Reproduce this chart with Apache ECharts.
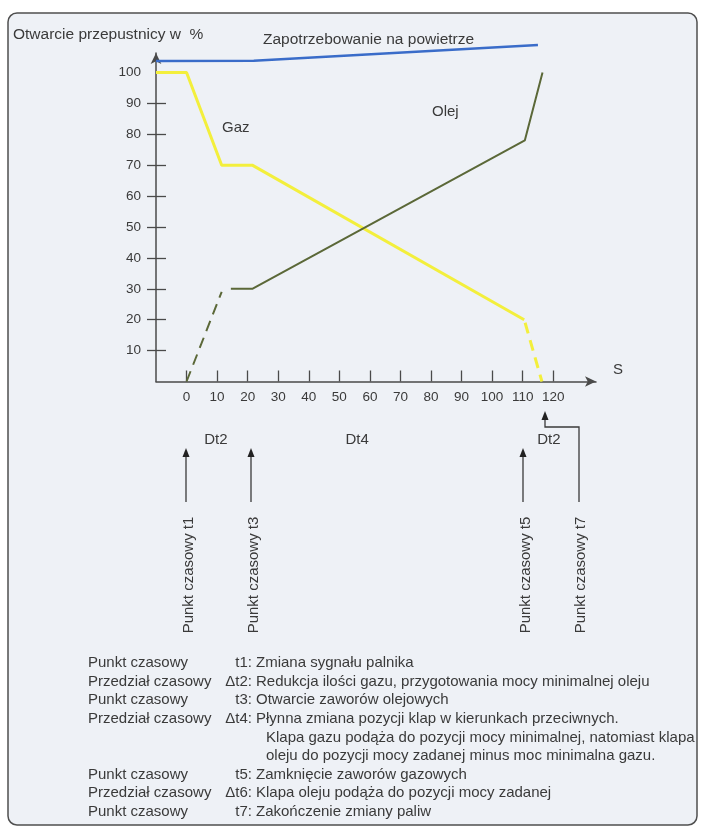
<!DOCTYPE html>
<html>
<head>
<meta charset="utf-8">
<script src="https://cdn.jsdelivr.net/npm/echarts@6/dist/echarts.min.js"></script>
<style>
html,body{margin:0;padding:0;background:#ffffff;}
#chart{width:702px;height:828px;}
</style>
</head>
<body>
<div id="chart"></div>
<script>
// ---- data (time in s, opening in %) ----
const airDemand = [[-10, 103.7], [22, 103.8], [115, 108.9]];
const gasSolid  = [[-10, 100], [0, 100], [11.5, 70], [21.5, 70], [110.5, 20]];
const gasDashed = [[110.8, 19], [116.3, 0]];
const oilDashed = [[0, 0], [11.5, 29]];
const oilSolid  = [[14.5, 30], [21.5, 30], [110.7, 78], [116.5, 100]];

const xTickValues = [0, 10, 20, 30, 40, 50, 60, 70, 80, 90, 100, 110, 120];
const yTickValues = [10, 20, 30, 40, 50, 60, 70, 80, 90];
const yLabelValues = [10, 20, 30, 40, 50, 60, 70, 80, 90, 100];

const eventTimes  = [0, 21.5, 110.5];
const eventLabels = ['Punkt czasowy t1', 'Punkt czasowy t3', 'Punkt czasowy t5'];
const endEventTime = 117.3;
const endEventLabel = 'Punkt czasowy t7';
const intervalCenters = [9.6, 55.8, 118.6];
const intervalLabels = ['Dt2', 'Dt4', 'Dt2'];

const legendRows = [
  ['Punkt czasowy', 't1:', 'Zmiana sygnału palnika', 0],
  ['Przedział czasowy', 'Δt2:', 'Redukcja ilości gazu, przygotowania mocy minimalnej oleju', 0],
  ['Punkt czasowy', 't3:', 'Otwarcie zaworów olejowych', 0],
  ['Przedział czasowy', 'Δt4:', 'Płynna zmiana pozycji klap w kierunkach przeciwnych.', 0],
  ['', '', 'Klapa gazu podąża do pozycji mocy minimalnej, natomiast klapa', 1],
  ['', '', 'oleju do pozycji mocy zadanej minus moc minimalna gazu.', 1],
  ['Punkt czasowy', 't5:', 'Zamknięcie zaworów gazowych', 0],
  ['Przedział czasowy', 'Δt6:', 'Klapa oleju podąża do pozycji mocy zadanej', 0],
  ['Punkt czasowy', 't7:', 'Zakończenie zmiany paliw', 0]
];

const FONT = 'Liberation Sans, Arial, sans-serif';
const TXT = '#3a3a3a';
const AX = '#4a4a4a';

const chart = echarts.init(document.getElementById('chart'), null, {renderer: 'canvas'});

const option = {
  animation: false,
  backgroundColor: 'transparent',
  grid: {left: 156, right: 106, top: 53, bottom: 446.5},
  xAxis: {
    type: 'value', min: -10, max: 134,
    axisLine: {show: true, onZero: false, symbol: ['none', 'arrow'], symbolSize: [8, 11], lineStyle: {color: AX, width: 1.5}},
    axisTick: {show: true, inside: true, length: 11, customValues: xTickValues, lineStyle: {color: AX, width: 1.3}},
    axisLabel: {show: true, customValues: xTickValues, margin: 9, fontSize: 13.5, color: TXT, fontFamily: FONT},
    splitLine: {show: false}
  },
  yAxis: [{
    type: 'value', min: 0, max: 106.3, position: 'left',
    axisLine: {show: true, onZero: false, symbol: ['none', 'arrow'], symbolSize: [8, 11], lineStyle: {color: AX, width: 1.5}},
    axisTick: {show: true, inside: true, length: 10, customValues: yTickValues, lineStyle: {color: AX, width: 1.3}},
    axisLabel: {show: true, customValues: yLabelValues, margin: 15, fontSize: 13.5, color: TXT, fontFamily: FONT},
    splitLine: {show: false}
  }, {
    type: 'value', min: 0, max: 106.3, position: 'left', offset: 0,
    axisLine: {show: false, onZero: false},
    axisTick: {show: true, inside: false, length: 9, customValues: yTickValues, lineStyle: {color: AX, width: 1.3}},
    axisLabel: {show: false},
    splitLine: {show: false}
  }],
  series: [
    {type: 'line', name: 'air', data: airDemand, showSymbol: false, clip: false,
     lineStyle: {color: '#3a6cc9', width: 2.5}, z: 3},
    {type: 'line', name: 'gas', data: gasSolid, showSymbol: false, clip: false,
     lineStyle: {color: '#f3ef3c', width: 3}, z: 4},
    {type: 'line', name: 'gasDash', data: gasDashed, showSymbol: false, clip: false,
     lineStyle: {color: '#f3ef3c', width: 3, type: [11, 7]}, z: 4},
    {type: 'line', name: 'oilDash', data: oilDashed, showSymbol: false, clip: false,
     lineStyle: {color: '#5b6838', width: 2, type: [11, 7]}, z: 5},
    {type: 'line', name: 'oil', data: oilSolid, showSymbol: false, clip: false,
     lineStyle: {color: '#5b6838', width: 2}, z: 5}
  ]
};
chart.setOption(option);

function px(x, y) { return chart.convertToPixel({xAxisIndex: 0, yAxisIndex: 0}, [x, y]); }

function txt(x, y, s, extra) {
  return Object.assign({type: 'text', x: x, y: y, z: 100,
    style: Object.assign({text: s, fill: TXT, font: '15px ' + FONT, textVerticalAlign: 'middle'}, (extra || {}))});
}
function arrowUp(x, yTip, yEnd) {
  return [
    {type: 'line', z: 100, shape: {x1: x, y1: yTip + 6, x2: x, y2: yEnd}, style: {stroke: '#3a3a3a', lineWidth: 1.3}},
    {type: 'polygon', z: 100, shape: {points: [[x, yTip], [x - 3.5, yTip + 9], [x + 3.5, yTip + 9]]}, style: {fill: '#222'}}
  ];
}

const g = [];
g.push({type: 'rect', z: -10, shape: {x: 8, y: 13, width: 689, height: 812, r: 9},
  style: {fill: '#eef1f6', stroke: '#4f4f4f', lineWidth: 1.5}});
g.push(txt(13, 35, 'Otwarcie przepustnicy w  %', {font: '15.5px ' + FONT}));
g.push(txt(263, 40, 'Zapotrzebowanie na powietrze', {font: '15.5px ' + FONT}));
g.push(txt(222, 128, 'Gaz'));
g.push(txt(432, 112, 'Olej'));
g.push(txt(613, 370, 'S'));

intervalCenters.forEach((t, i) => {
  const p = px(t, 0);
  g.push(txt(p[0], 440, intervalLabels[i], {textAlign: 'center'}));
});
eventTimes.forEach((t, i) => {
  const p = px(t, 0);
  const x = Math.round(p[0]) - 1;
  arrowUp(x, 448, 502).forEach(e => g.push(e));
  g.push({type: 'text', x: x + 3, y: 575, rotation: Math.PI / 2, z: 100,
    style: {text: eventLabels[i], fill: TXT, font: '15px ' + FONT, textAlign: 'center', textVerticalAlign: 'middle'}});
});
(function () {
  const p = px(endEventTime, 0);
  const xt = Math.round(p[0]);
  const xr = xt + 34;
  g.push({type: 'polyline', z: 100, shape: {points: [[xt, 418], [xt, 427], [xr, 427], [xr, 502]]},
    style: {stroke: '#3a3a3a', lineWidth: 1.3, fill: null}});
  g.push({type: 'polygon', z: 100, shape: {points: [[xt, 411], [xt - 3.5, 420], [xt + 3.5, 420]]}, style: {fill: '#222'}});
  g.push({type: 'text', x: xr + 2, y: 575, rotation: Math.PI / 2, z: 100,
    style: {text: endEventLabel, fill: TXT, font: '15px ' + FONT, textAlign: 'center', textVerticalAlign: 'middle'}});
})();

legendRows.forEach((r, i) => {
  const y = 663 + i * 18.6;
  if (r[0]) g.push(txt(88, y, r[0]));
  if (r[1]) g.push(txt(252, y, r[1], {textAlign: 'right'}));
  g.push(txt(r[3] ? 266 : 256, y, r[2]));
});

chart.setOption({graphic: {elements: g}});
</script>
</body>
</html>
